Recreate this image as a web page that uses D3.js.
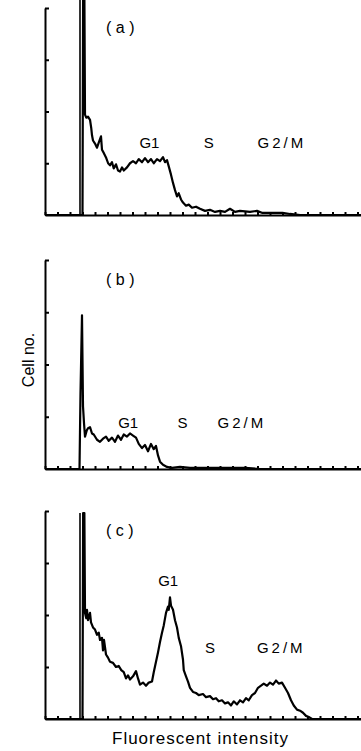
<!DOCTYPE html>
<html>
<head>
<meta charset="utf-8">
<script src="https://cdn.jsdelivr.net/npm/d3@7"></script>
<style>
  body { margin: 0; background: #fff; }
  svg { display: block; font-family: "Liberation Sans", Arial, sans-serif; }
  svg text { fill: #000; }
  .axis path, .axis line { stroke: #000; stroke-width: 2; }
  .hist { fill: none; stroke: #000; stroke-width: 2.2; stroke-linejoin: round; }
</style>
</head>
<body>
<svg id="chart" width="361" height="751"></svg>
<script>
// flow cytometry DNA histograms, [channel, cell count]
const histA = [
  [0, 0], [30, 0], [30.5, 215], [31.5, 215], [32, 97], [33, 94], [34.4, 95], [36, 92], [37, 84],
  [37.6, 77], [38.4, 72], [40, 69], [41.6, 65], [43, 70], [44.8, 76], [45.6, 63], [47, 60],
  [49, 55], [50.5, 50], [52, 48], [53.6, 51], [55, 45], [56.8, 49], [58.4, 43], [60, 42],
  [61.6, 46], [63, 43], [65.6, 46], [68, 50], [70.4, 52], [72.8, 50], [75, 54], [77.6, 51],
  [80, 55], [82.4, 51], [84.8, 54], [87, 50], [89.6, 54], [92, 52], [94.4, 56], [96, 51],
  [97.6, 53], [99, 47], [100.8, 39], [102.4, 31], [104, 24], [105.6, 18], [107, 21],
  [108.8, 15], [110.4, 12], [112.8, 9], [115, 10], [117.6, 7], [120.8, 8], [124, 6], [128, 4],
  [132, 5], [136, 3], [140, 4], [144, 3], [148, 6], [152, 3], [156, 4], [164, 3], [169.6, 4],
  [174, 2], [180, 2], [190, 2], [196, 1], [204, 0], [256, 0]
];
const histB = [
  [0, 0], [27.6, 0], [28.4, 73], [29.6, 147], [30.4, 60], [31.2, 44], [32, 31], [33.4, 37],
  [34.4, 39], [36, 40], [37.6, 34], [39, 33], [41.6, 28], [44, 26], [46.4, 29], [48.8, 31],
  [51, 27], [53.6, 30], [56, 26], [58.4, 32], [60.8, 28], [63, 33], [65.6, 31], [68, 34],
  [70.4, 32], [72.8, 30], [75, 24], [77.6, 20], [80, 23], [82.4, 17], [84.8, 24], [87, 19],
  [88.8, 22], [90.4, 13], [92, 7], [94.4, 4], [97.6, 2], [101.6, 1], [108, 2], [116, 1],
  [124, 1], [140, 1], [160, 1], [172, 0], [256, 0]
];
const histC = [
  [0, 0], [30, 0], [30.5, 198], [31.5, 198], [32, 102], [33, 97], [33.6, 105], [34.4, 95],
  [36, 102], [36.8, 93], [38.4, 88], [40, 86], [41.6, 81], [43, 83], [44, 76], [45.6, 78],
  [46.4, 66], [47.2, 76], [48.8, 62], [50.4, 59], [52, 55], [54.4, 54], [56.8, 50], [59, 51],
  [61, 47], [63, 45], [64.8, 39], [66.4, 42], [68, 38], [70.4, 41], [72.8, 46], [74.4, 39],
  [76, 33], [78.4, 35], [80.8, 32], [83, 35], [85.6, 36], [87, 45], [88.8, 55], [90.4, 64],
  [92, 74], [93.6, 83], [95, 90], [96.8, 102], [98.4, 108], [99, 105], [100, 117], [100.8, 109],
  [102.4, 105], [104, 95], [105.6, 88], [107, 78], [108.8, 70], [110.4, 57], [111, 47],
  [112.8, 41], [114.4, 36], [116, 30], [118.4, 26], [120.8, 25], [123, 23], [126.4, 24],
  [128.8, 21], [132, 22], [134.4, 19], [136.8, 20], [139, 17], [141.6, 18], [144, 15],
  [146.4, 16], [148.8, 13], [151, 17], [153.6, 14], [156, 18], [158.4, 16], [160.8, 20],
  [163, 18], [165.6, 23], [168, 25], [170.4, 30], [172.8, 32], [175, 34], [177.6, 32],
  [180, 35], [182.4, 33], [184.8, 37], [187, 34], [189.6, 35], [192, 30], [194.4, 25],
  [196.8, 18], [199, 13], [201.6, 9], [204, 8], [206.4, 6], [208.8, 3], [211, 2], [213.6, 0],
  [256, 0]
];

const xTicks = d3.range(0, 256, 10);
const yTicks = [50, 100, 150, 200];
const gateChannel = 28;

// one entry per panel: label, data, gate height, phase label positions [text, channel, count]
const panels = [
  { tag: '(a)', data: histA, gate: 215, top: 8, bottom: 215,
    phases: [['G1', 75.5, 65], ['S', 127, 65], ['G2/M', 170, 65]] },
  { tag: '(b)', data: histB, gate: null, top: 260, bottom: 469,
    phases: [['G1', 58.5, 39], ['S', 106, 39], ['G2/M', 138, 39]] },
  { tag: '(c)', data: histC, gate: 198, top: 511, bottom: 719,
    phases: [['G1', 90.5, 128], ['S', 128, 63], ['G2/M', 169.5, 63]] }
];

const svg = d3.select('#chart');
const x = d3.scaleLinear().domain([0, 256]).range([45, 365]);

panels.forEach(p => {
  const y = d3.scaleLinear().domain([0, 200]).range([p.bottom, p.top]);
  const g = svg.append('g');

  g.append('g')
      .attr('class', 'axis')
      .attr('transform', `translate(0, ${p.bottom})`)
      .call(d3.axisTop(x).tickValues(xTicks).tickSize(3).tickSizeOuter(0).tickFormat(''));
  g.append('g')
      .attr('class', 'axis')
      .attr('transform', `translate(${x(0)}, 0)`)
      .call(d3.axisRight(y).tickValues(yTicks).tickSize(4).tickSizeOuter(0).tickFormat(''));

  if (p.gate !== null) {
    g.append('line')
        .attr('x1', x(gateChannel)).attr('x2', x(gateChannel))
        .attr('y1', y(0)).attr('y2', y(p.gate))
        .attr('stroke', '#000')
        .attr('stroke-width', 1.6);
  }

  g.append('path')
      .datum(p.data)
      .attr('class', 'hist')
      .attr('d', d3.line().x(d => x(d[0])).y(d => y(d[1])));

  g.append('text')
      .attr('x', 106)
      .attr('y', p.top + 25)
      .attr('font-size', 16)
      .attr('letter-spacing', 4.5)
      .text(p.tag);

  g.selectAll('.phase')
    .data(p.phases)
    .join('text')
      .attr('class', 'phase')
      .attr('x', d => x(d[1]))
      .attr('y', d => y(d[2]))
      .attr('font-size', 15)
      .attr('letter-spacing', d => d[0] === 'G2/M' ? 3 : 0)
      .text(d => d[0]);
});

svg.append('text')
    .attr('transform', 'translate(34, 360) rotate(-90)')
    .attr('text-anchor', 'middle')
    .attr('font-size', 16)
    .text('Cell no.');

svg.append('text')
    .attr('x', 112)
    .attr('y', 744)
    .attr('font-size', 17)
    .attr('letter-spacing', 1)
    .text('Fluorescent intensity');
</script>
</body>
</html>
